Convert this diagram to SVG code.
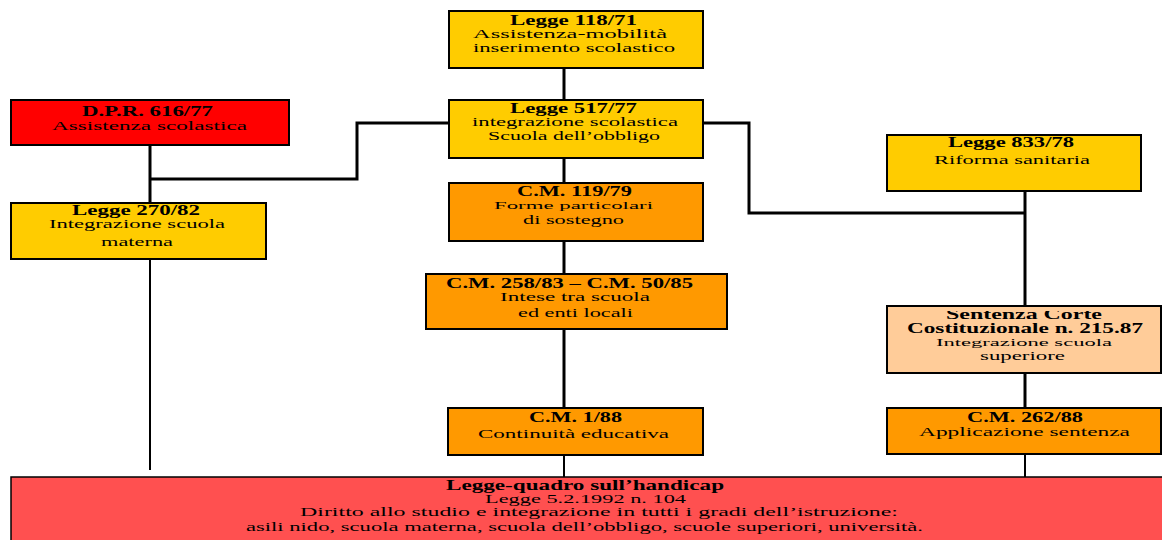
<svg xmlns="http://www.w3.org/2000/svg" width="1162" height="540" viewBox="0 0 1162 540">
<style>
rect{stroke:#000;stroke-width:2}
.y{fill:#FFCC00}.o{fill:#FF9900}.r{fill:#FF0000}.p{fill:#FFCC99}.b{fill:#FF5050;stroke-width:1.5}
text{font-family:"Liberation Serif","Times New Roman",serif;fill:#000}
.t{font-weight:bold;font-size:14px}
.s{font-size:12px}
.x{font-size:11px}
.m{font-size:13px}
#connectors path{fill:none;stroke:#000;stroke-width:3}
</style>
<defs><clipPath id="sc"><rect x="880" y="311" width="290" height="70" style="stroke:none"/></clipPath></defs>
<g id="connectors">
<path d="M564,68V100"/>
<path d="M564,158V183"/>
<path d="M564,241V274"/>
<path d="M564,329V408"/>
<path d="M564,455V477" style="stroke-width:2"/>
<path d="M449,123H357V179H150"/>
<path d="M150,145V203"/>
<path d="M150,259V470" style="stroke-width:2"/>
<path d="M703,123H749V213H1025"/>
<path d="M1025,191V306"/>
<path d="M1025,373V408"/>
<path d="M1025,454V477" style="stroke-width:2"/>
</g>
<g id="n118">
<rect class="y" x="449" y="11" width="254" height="57"/>
<text class="t" x="510" y="25" textLength="127" lengthAdjust="spacingAndGlyphs">Legge 118/71</text>
<text class="s" x="473" y="38" textLength="194" lengthAdjust="spacingAndGlyphs">Assistenza-mobilità</text>
<text class="s" x="473" y="52" textLength="202" lengthAdjust="spacingAndGlyphs">inserimento scolastico</text>
</g>
<g id="n517">
<rect class="y" x="449" y="100" width="254" height="58"/>
<text class="t" x="510" y="113" textLength="127" lengthAdjust="spacingAndGlyphs">Legge 517/77</text>
<text class="s" x="472" y="126" textLength="206" lengthAdjust="spacingAndGlyphs">integrazione scolastica</text>
<text class="s" x="488" y="140" textLength="172" lengthAdjust="spacingAndGlyphs">Scuola dell’obbligo</text>
</g>
<g id="dpr">
<rect class="r" x="11" y="100" width="278" height="45"/>
<text class="t" x="82" y="116" textLength="131" lengthAdjust="spacingAndGlyphs">D.P.R. 616/77</text>
<text class="s" x="52" y="130" textLength="195" lengthAdjust="spacingAndGlyphs">Assistenza scolastica</text>
</g>
<g id="n270">
<rect class="y" x="11" y="203" width="255" height="56"/>
<text class="t" x="72" y="215" textLength="128" lengthAdjust="spacingAndGlyphs">Legge 270/82</text>
<text class="s" x="49" y="228" textLength="176" lengthAdjust="spacingAndGlyphs">Integrazione scuola</text>
<text class="s" x="101" y="246" textLength="72" lengthAdjust="spacingAndGlyphs">materna</text>
</g>
<g id="n833">
<rect class="y" x="887" y="135" width="254" height="56"/>
<text class="t" x="948" y="147" textLength="126" lengthAdjust="spacingAndGlyphs">Legge 833/78</text>
<text class="s" x="934" y="164" textLength="156" lengthAdjust="spacingAndGlyphs">Riforma sanitaria</text>
</g>
<g id="cm119">
<rect class="o" x="449" y="183" width="254" height="58"/>
<text class="t" x="517" y="196" textLength="115" lengthAdjust="spacingAndGlyphs">C.M. 119/79</text>
<text class="x" x="494" y="209" textLength="159" lengthAdjust="spacingAndGlyphs">Forme particolari</text>
<text class="s" x="523" y="224" textLength="101" lengthAdjust="spacingAndGlyphs">di sostegno</text>
</g>
<g id="cm258">
<rect class="o" x="426" y="274" width="301" height="55"/>
<text class="t" x="446" y="288" textLength="247" lengthAdjust="spacingAndGlyphs">C.M. 258/83 – C.M. 50/85</text>
<text class="s" x="500" y="301" textLength="150" lengthAdjust="spacingAndGlyphs">Intese tra scuola</text>
<text class="s" x="518" y="317" textLength="115" lengthAdjust="spacingAndGlyphs">ed enti locali</text>
</g>
<g id="sentenza">
<rect class="p" x="887" y="306" width="274" height="67"/>
<text class="t" x="946" y="319" textLength="156" lengthAdjust="spacingAndGlyphs" clip-path="url(#sc)">Sentenza Corte</text>
<text class="t" x="907" y="333" textLength="236" lengthAdjust="spacingAndGlyphs">Costituzionale n. 215.87</text>
<text class="x" x="936" y="346" textLength="176" lengthAdjust="spacingAndGlyphs">Integrazione scuola</text>
<text class="s" x="980" y="360" textLength="85" lengthAdjust="spacingAndGlyphs">superiore</text>
</g>
<g id="cm262">
<rect class="o" x="887" y="408" width="274" height="46"/>
<text class="t" x="967" y="422" textLength="116" lengthAdjust="spacingAndGlyphs">C.M. 262/88</text>
<text class="s" x="919" y="436" textLength="211" lengthAdjust="spacingAndGlyphs">Applicazione sentenza</text>
</g>
<g id="cm188">
<rect class="o" x="448" y="408" width="255" height="47"/>
<text class="t" x="529" y="422" textLength="93" lengthAdjust="spacingAndGlyphs">C.M. 1/88</text>
<text class="s" x="478" y="438" textLength="191" lengthAdjust="spacingAndGlyphs">Continuità educativa</text>
</g>
<g id="legge104">
<rect class="b" x="11" y="477" width="1160" height="70"/>
<text class="t" x="446" y="490" textLength="278" lengthAdjust="spacingAndGlyphs">Legge-quadro sull’handicap</text>
<text class="m" x="485" y="503" textLength="201" lengthAdjust="spacingAndGlyphs">Legge 5.2.1992 n. 104</text>
<text class="m" x="300" y="516" textLength="598" lengthAdjust="spacingAndGlyphs">Diritto allo studio e integrazione in tutti i gradi dell’istruzione:</text>
<text class="m" x="246" y="531" textLength="677" lengthAdjust="spacingAndGlyphs">asili nido, scuola materna, scuola dell’obbligo, scuole superiori, università.</text>
</g>
</svg>
